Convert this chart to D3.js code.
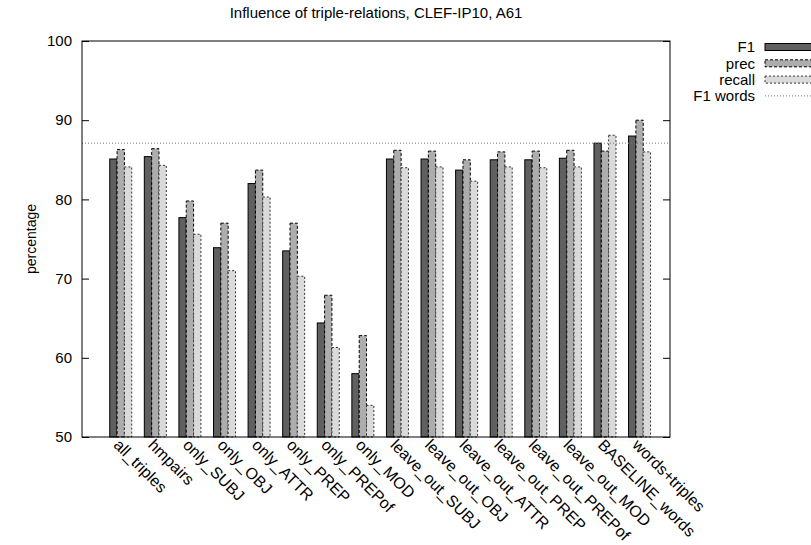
<!DOCTYPE html>
<html>
<head>
<meta charset="utf-8">
<script src="https://cdn.jsdelivr.net/npm/d3@7"></script>
<style>
  body { margin: 0; background: #fff; }
  text { font-family: "Liberation Sans", Arial, sans-serif; fill: #000; }
</style>
</head>
<body>
<svg id="chart"></svg>
<script>
const categories = ['all_triples', 'hmpairs', 'only_SUBJ', 'only_OBJ', 'only_ATTR', 'only_PREP',
  'only_PREPof', 'only_MOD', 'leave_out_SUBJ', 'leave_out_OBJ', 'leave_out_ATTR', 'leave_out_PREP',
  'leave_out_PREPof', 'leave_out_MOD', 'BASELINE_words', 'words+triples'];
const f1     = [85.1, 85.4, 77.7, 73.9, 82.0, 73.5, 64.4, 58.0, 85.1, 85.1, 83.7, 85.0, 85.0, 85.2, 87.1, 88.0];
const prec   = [86.3, 86.4, 79.8, 77.0, 83.7, 77.0, 67.9, 62.8, 86.2, 86.1, 85.0, 86.0, 86.1, 86.2, 86.1, 90.0];
const recall = [84.1, 84.3, 75.6, 71.0, 80.3, 70.3, 61.3, 54.0, 84.0, 84.1, 82.3, 84.1, 84.0, 84.1, 88.1, 86.0];
const f1Words = 87.1;
const yTicks = [50, 60, 70, 80, 90, 100];

const width = 811, height = 545;
const plotLeft = 82, plotRight = 670, plotTop = 41, plotBottom = 437;

const svg = d3.select('#chart')
  .attr('width', width)
  .attr('height', height);

const x = d3.scaleLinear().domain([-1.12, 15.88]).range([plotLeft, plotRight]);
const y = d3.scaleLinear().domain([50, 100]).range([plotBottom, plotTop]);
const bw = x(0.212) - x(0);

// series styles
const series = [
  { name: 'F1', values: f1, fill: '#606060', stroke: '#000', dash: null },
  { name: 'prec', values: prec, fill: '#adadad', stroke: '#000', dash: '3,2' },
  { name: 'recall', values: recall, fill: '#dadada', stroke: '#333', dash: '2,2' }
];

// bars
series.forEach((s, j) => {
  svg.append('g')
    .selectAll('rect')
    .data(s.values)
    .enter()
    .append('rect')
    .attr('x', (d, i) => x(i) + (j - 1.5) * bw)
    .attr('y', d => y(d))
    .attr('width', bw)
    .attr('height', d => y(50) - y(d))
    .style('fill', s.fill)
    .style('stroke', s.stroke)
    .style('stroke-width', 1)
    .style('stroke-dasharray', s.dash);
});

// F1 words reference line
svg.append('line')
  .attr('x1', plotLeft).attr('x2', plotRight)
  .attr('y1', y(f1Words)).attr('y2', y(f1Words))
  .style('stroke', '#777')
  .style('stroke-width', 1)
  .style('stroke-dasharray', '1,2');

// y axis (ticks inward on both sides)
svg.append('g')
  .attr('transform', `translate(${plotLeft},0)`)
  .call(d3.axisRight(y).tickValues(yTicks).tickSize(7).tickFormat(''))
  .call(g => g.select('.domain').remove());
svg.append('g')
  .attr('transform', `translate(${plotRight},0)`)
  .call(d3.axisLeft(y).tickValues(yTicks).tickSize(7).tickFormat(''))
  .call(g => g.select('.domain').remove());

svg.selectAll('.tick line').style('stroke', '#000');

svg.append('g')
  .selectAll('text')
  .data(yTicks)
  .enter()
  .append('text')
  .attr('x', plotLeft - 10)
  .attr('y', d => y(d))
  .attr('dy', '0.35em')
  .attr('text-anchor', 'end')
  .style('font-size', '15px')
  .text(d => d);

// border
svg.append('rect')
  .attr('x', plotLeft).attr('y', plotTop)
  .attr('width', plotRight - plotLeft).attr('height', plotBottom - plotTop)
  .style('fill', 'none')
  .style('stroke', '#000')
  .style('stroke-width', 1);

// x labels
svg.append('g')
  .selectAll('text')
  .data(categories)
  .enter()
  .append('text')
  .attr('transform', (d, i) => `translate(${x(i) - 8},${plotBottom + 9}) rotate(45)`)
  .attr('text-anchor', 'start')
  .style('font-size', '16px')
  .text(d => d);

// title and y label
svg.append('text')
  .attr('x', (plotLeft + plotRight) / 2)
  .attr('y', 18)
  .attr('text-anchor', 'middle')
  .style('font-size', '15px')
  .text('Influence of triple-relations, CLEF-IP10, A61');

svg.append('text')
  .attr('transform', `translate(36,${(plotTop + plotBottom) / 2}) rotate(-90)`)
  .attr('text-anchor', 'middle')
  .style('font-size', '14px')
  .text('percentage');

// legend
const legend = svg.append('g');
const rows = [...series, { name: 'F1 words' }];
rows.forEach((s, k) => {
  const ly = 47 + k * 16.3;
  legend.append('text')
    .attr('x', 755)
    .attr('y', ly)
    .attr('dy', '0.35em')
    .attr('text-anchor', 'end')
    .style('font-size', '15px')
    .text(s.name);
  if (s.values) {
    legend.append('rect')
      .attr('x', 765).attr('y', ly - 3.5)
      .attr('width', 60).attr('height', 7)
      .style('fill', s.fill)
      .style('stroke', s.stroke)
      .style('stroke-dasharray', s.dash);
  } else {
    legend.append('line')
      .attr('x1', 765).attr('x2', 811)
      .attr('y1', ly).attr('y2', ly)
      .style('stroke', '#777')
      .style('stroke-dasharray', '1,2');
  }
});
</script>
</body>
</html>
